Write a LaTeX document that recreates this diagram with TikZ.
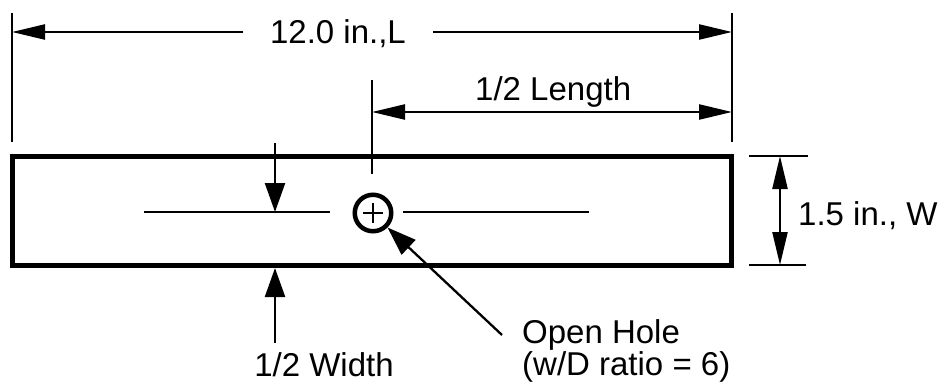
\documentclass[tikz,border=0pt]{standalone}
\usepackage{fontspec}
\setmainfont{Liberation Sans}
\usetikzlibrary{arrows.meta,calc}
\begin{document}
\begin{tikzpicture}[x=1pt,y=-1pt,
  thin line/.style={line width=2.3pt},
  dimarrow/.style={thin line,-{Triangle[length=33pt,width=15pt]}},
  dimboth/.style={thin line,{Triangle[length=33pt,width=15pt]}-{Triangle[length=33pt,width=15pt]}},
  fatarrow/.style={thin line,-{Triangle[length=29pt,width=20pt]}},
  lbl/.style={inner sep=0pt,font=\fontsize{33}{30}\selectfont}]
\useasboundingbox (0,0) rectangle (940,383);
% coordinates
\coordinate (extLtop) at (12,13);
\coordinate (extLbot) at (12,142);
\coordinate (extRtop) at (732,13);
\coordinate (extRbot) at (732,142);
\coordinate (Ldimleft) at (12,32);
\coordinate (Ldimright) at (732,32);
\coordinate (Lgapl) at (243,32);
\coordinate (Lgapr) at (433,32);
\coordinate (midtop) at (372,80);
\coordinate (midbot) at (372,174);
\coordinate (hLleft) at (372,112);
\coordinate (hLright) at (732,112);
\coordinate (Wtop) at (780,156);
\coordinate (Wbot) at (780,265);
\coordinate (WextTa) at (749,156);
\coordinate (WextTb) at (808,156);
\coordinate (WextBa) at (749,265);
\coordinate (WextBb) at (806,265);
\coordinate (hwTopStart) at (275,143);
\coordinate (hwTopTip) at (275,212);
\coordinate (hwBotStart) at (275,343);
\coordinate (hwBotTip) at (275,268);
\coordinate (clLa) at (144,212);
\coordinate (clLb) at (330,212);
\coordinate (clRa) at (403,212);
\coordinate (clRb) at (589,212);
\coordinate (leadend) at (502,335);
% bar
\draw[line width=5pt] (12,156) rectangle (731,265);
% hole
\node[circle,draw,line width=4.5pt,minimum size=36.5pt,inner sep=0pt] (hole) at (373,213) {};
\draw[line width=2pt] ($(hole.center)+(-10,0)$) -- ($(hole.center)+(10,0)$);
\draw[line width=2pt] ($(hole.center)+(0,-10)$) -- ($(hole.center)+(0,10)$);
% extension lines
\draw[thin line] (extLtop) -- (extLbot);
\draw[thin line] (extRtop) -- (extRbot);
\draw[thin line] (midtop) -- (midbot);
\draw[thin line] (WextTa) -- (WextTb);
\draw[thin line] (WextBa) -- (WextBb);
% centerlines
\draw[thin line] (clLa) -- (clLb);
\draw[thin line] (clRa) -- (clRb);
% overall length
\node[lbl,anchor=base] (Ltext) at (338,43) {12.0 in.,L};
\draw[dimarrow] (Lgapl) -- (Ldimleft);
\draw[dimarrow] (Lgapr) -- (Ldimright);
% half length
\draw[dimboth] (hLleft) -- (hLright);
\node[lbl,anchor=base west] (hLtext) at (475,100) {1/2 Length};
% width
\draw[dimboth] (Wtop) -- (Wbot);
\node[lbl,anchor=base west] (Wtext) at (798,225) {1.5 in., W};
% half width
\draw[fatarrow] (hwTopStart) -- (hwTopTip);
\draw[fatarrow] (hwBotStart) -- (hwBotTip);
\node[lbl,anchor=base] (hwtext) at (324,376) {1/2 Width};
% open hole
\draw[fatarrow] (leadend) -- (hole.south east);
\node[lbl,anchor=base west,align=left] (holetext) at (522,375) {Open Hole\\(w/D ratio = 6)};
\end{tikzpicture}
\end{document}
